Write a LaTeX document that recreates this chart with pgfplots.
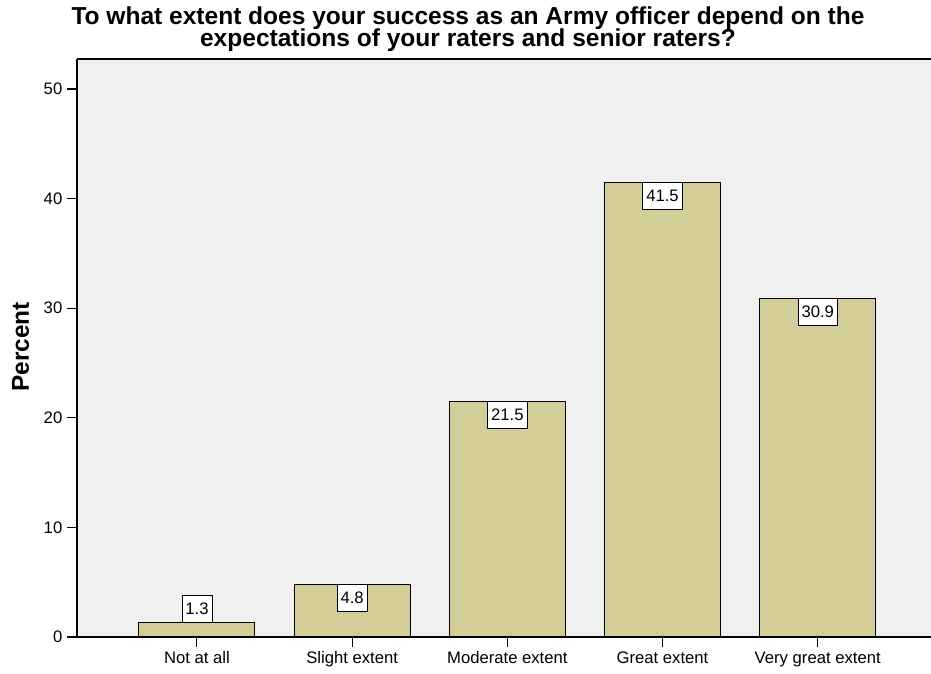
\documentclass[border=0pt]{standalone}
\usepackage{fontspec}
\setmainfont{Liberation Sans}
\usepackage{pgfplots}
\pgfplotsset{compat=1.18}
\definecolor{bgcol}{RGB}{240,240,240}
\definecolor{barcol}{RGB}{211,206,151}

\begin{document}
\begin{tikzpicture}[x=0.75pt,y=0.75pt]
% fixed page size, 931 x 674 px
\path[use as bounding box] (0,0) rectangle (931,674);
\begin{axis}[
    at={(57.75pt,27.75pt)}, anchor=south west,
    scale only axis,
    width=640.5pt, height=433.5pt,
    xmin=-0.773, xmax=4.73,
    ymin=0, ymax=52.74,
    axis lines*=left,
    axis line style={line width=0.8pt},
    axis background/.style={fill=bgcol},
    tick align=outside,
    major tick length=7.5pt,
    every tick/.style={black, line width=0.8pt},
    xtick={0,1,2,3,4},
    xticklabels={Not at all, Slight extent, Moderate extent, Great extent, Very great extent},
    ytick={0,10,20,30,40,50},
    tick label style={font=\fontsize{12.5}{14}\selectfont},
    /pgf/number format/assume math mode=true,
    ybar, bar width=87pt, bar shift=0pt,
    nodes near coords={\pgfmathprintnumber[fixed,fixed zerofill,precision=1]{\pgfplotspointmeta}},
    every node near coord/.append style={fill=white, draw=black,
        line width=0.6pt, inner xsep=2.6pt, inner ysep=0pt, minimum height=20pt,
        font=\fontsize{12.5}{14}\selectfont},
]
% label above the short bar
\addplot[fill=barcol, draw=black, line width=0.8pt,
    every node near coord/.append style={anchor=south}] coordinates {(0,1.3)};
% labels inside the other bars
\addplot[fill=barcol, draw=black, line width=0.8pt,
    every node near coord/.append style={anchor=north}] coordinates {
    (1,4.8) (2,21.5) (3,41.5) (4,30.9)};
\draw[line width=0.8pt] (rel axis cs:0,1) -- (rel axis cs:1,1);
\end{axis}
\node[font=\fontsize{18.4}{20}\selectfont\bfseries, anchor=base] at (468,649.5) {To what extent does your success as an Army officer depend on the};
\node[font=\fontsize{18.4}{20}\selectfont\bfseries, anchor=base] at (468,627) {expectations of your raters and senior raters?};
\node[font=\fontsize{18.3}{20}\selectfont\bfseries, rotate=90] at (20.5,327) {Percent};
\end{tikzpicture}
\end{document}
